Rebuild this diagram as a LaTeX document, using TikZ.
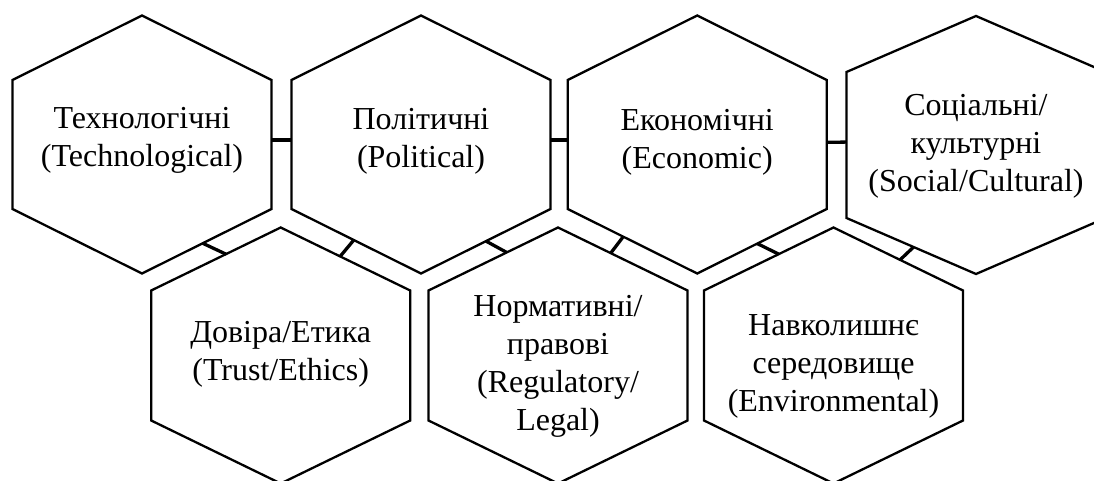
\documentclass[tikz,border=0pt]{standalone}
\usepackage{fontspec}
\setmainfont{Liberation Serif}
\usetikzlibrary{calc}

\tikzset{
  hexline/.style={draw=black, line width=1.15pt},
  link/.style={draw=black, line width=1.65pt},
  hextext/.style={align=center, inner sep=0pt, font=\fontsize{16}{19}\selectfont}
}

% hexagon cell: name, centre x, centre y, half height, half side
\newcommand{\hexcell}[5]{%
  \coordinate (#1) at (#2,#3);
  \coordinate (#1-t)  at (#2,#3-#4);
  \coordinate (#1-ur) at (#2+129.5,#3-#5);
  \coordinate (#1-lr) at (#2+129.5,#3+#5);
  \coordinate (#1-b)  at (#2,#3+#4);
  \coordinate (#1-ll) at (#2-129.5,#3+#5);
  \coordinate (#1-ul) at (#2-129.5,#3-#5);
  \draw[hexline] (#1-t) -- (#1-ur) -- (#1-lr) -- (#1-b) -- (#1-ll) -- (#1-ul) -- cycle;
}

\begin{document}
\begin{tikzpicture}[x=0.5pt, y=-0.5pt]
            \clip (0,0) rectangle (1094,481);

            % Top row
            \hexcell{tech}{142}{144.5}{129}{64.5}
            \hexcell{pol}{421}{144.5}{129}{64.5}
            \hexcell{eco}{697.2}{144.5}{129}{64.5}
            \hexcell{soc}{976}{145}{129}{73}

            % Bottom row
            \hexcell{trust}{280.7}{355.5}{128}{65}
            \hexcell{reg}{558}{355.5}{128}{65}
            \hexcell{env}{833.5}{355.5}{128}{65}

            % Labels
            \node[hextext] (techtxt) at ($(tech)+(0,-4)$) {Технологічні\\(Technological)};
            \node[hextext] (poltxt) at ($(pol)+(0,-3)$) {Політичні\\(Political)};
            \node[hextext] (ecotxt) at ($(eco)+(0,-2)$) {Економічні\\(Economic)};
            \node[hextext] (soctxt) at ($(soc)+(0,1)$) {Соціальні/\\культурні\\(Social/Cultural)};
            \node[hextext] (trusttxt) at ($(trust)+(0,-1.5)$) {Довіра/Етика\\(Trust/Ethics)};
            \node[hextext] (regtxt) at ($(reg)+(0,10.5)$) {Нормативні/\\правові\\(Regulatory/\\Legal)};
            \node[hextext] (envtxt) at ($(env)+(0,11)$) {Навколишнє\\середовище\\(Environmental)};

            % Links in the top row
            \draw[link] ($(tech-ur)!0.465!(tech-lr)$) -- ($(pol-ul)!0.465!(pol-ll)$);
            \draw[link] ($(pol-ur)!0.465!(pol-lr)$) -- ($(eco-ul)!0.465!(eco-ll)$);
            \draw[link] ($(eco-ur)!0.483!(eco-lr)$) -- ($(soc-ul)!0.48!(soc-ll)$);

            % Links between the rows
            \draw[link] ($(tech-lr)!0.531!(tech-b)$) -- ($(trust-t)!0.423!(trust-ul)$);
            \draw[link] ($(trust-t)!0.459!(trust-ur)$) -- ($(pol-b)!0.519!(pol-ll)$);
            \draw[link] ($(pol-lr)!0.498!(pol-b)$) -- ($(reg-t)!0.396!(reg-ul)$);
            \draw[link] ($(reg-t)!0.407!(reg-ur)$) -- ($(eco-b)!0.571!(eco-ll)$);
            \draw[link] ($(eco-lr)!0.536!(eco-b)$) -- ($(env-t)!0.423!(env-ul)$);
            \draw[link] ($(env-t)!0.514!(env-ur)$) -- ($(soc-b)!0.482!(soc-ll)$);
\end{tikzpicture}
\end{document}
